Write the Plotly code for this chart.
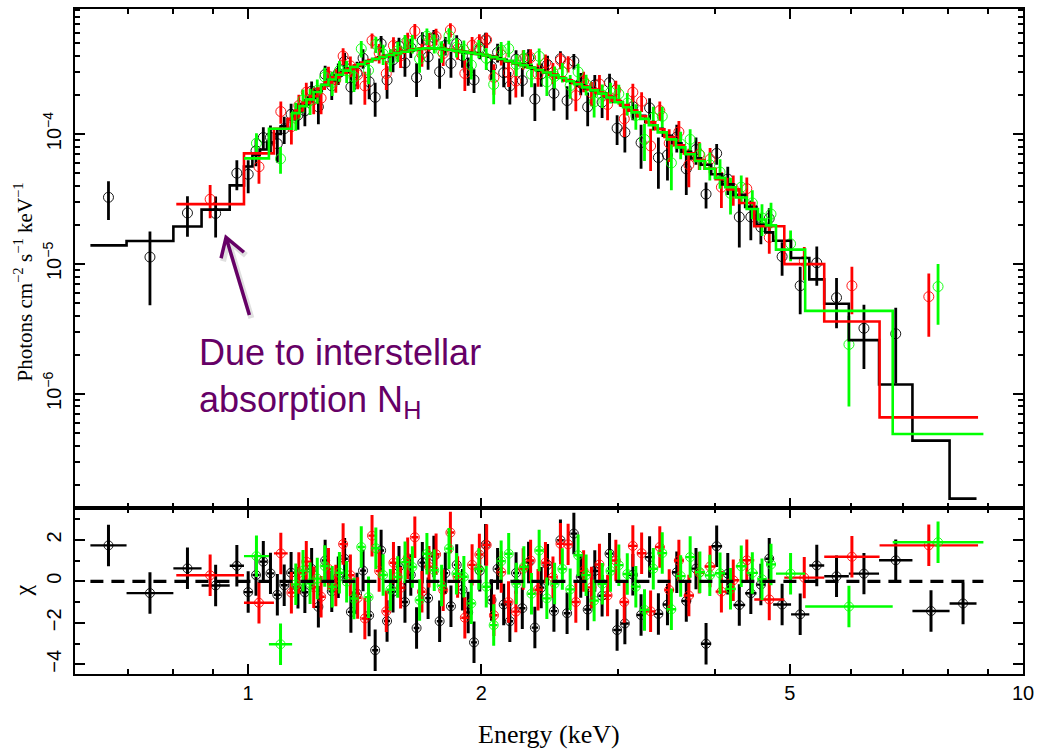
import numpy as np
import plotly.graph_objects as go

# Unfolded spectrum of three detectors with the fitted absorbed model.
# Flux, error and model lists are in units of 1e-5 photons cm^-2 s^-1 keV^-1.
FLUX_UNIT = 1e-5

# ---------------- black detector ----------------
blk_edges = [0.626, 0.697, 0.801, 0.871, 0.947, 0.988, 1.013,
             1.035, 1.058, 1.080, 1.102, 1.125, 1.148, 1.172, 1.196, 1.220, 1.245,
             1.270, 1.295, 1.320, 1.345, 1.370, 1.395, 1.420, 1.446, 1.472, 1.498,
             1.525, 1.552, 1.580, 1.608, 1.636, 1.664, 1.693, 1.722, 1.752, 1.782,
             1.812, 1.843, 1.875, 1.907, 1.940, 1.974, 2.008, 2.043, 2.080, 2.118,
             2.157, 2.197, 2.238, 2.280, 2.323, 2.367, 2.412, 2.458, 2.505, 2.555,
             2.606, 2.660, 2.715, 2.772, 2.832, 2.895, 2.960, 3.028, 3.100, 3.175,
             3.255, 3.340, 3.430, 3.525, 3.625, 3.730, 3.840, 3.960, 4.090, 4.230,
             4.380, 4.530,
             4.650, 4.760, 5.020, 5.300, 5.540, 5.960, 6.520, 7.200, 8.040, 8.710]
blk_flux = [3.26, 1.13, 2.47, 2.45, 5.0, 4.9,
            7.44, 9.4, 9.44, 8.44, 11.0, 14.2, 14.0, 15.1, 21.4, 16.2, 28.8, 23.5,
            29.4, 36.4, 23.0, 29.7, 38.4, 25.3, 19.2, 49.7, 26.0, 37.3, 47.6, 35.3,
            46.4, 27.2, 52.7, 39.3, 55.3, 30.2, 48.1, 35.0, 49.9, 40.1, 31.2, 26.1,
            45.0, 53.2, 33.1, 42.5, 29.7, 23.5, 37.7, 25.8, 38.7, 18.6, 29.0, 34.3,
            20.6, 38.0, 18.1, 36.4, 24.7, 16.2, 23.9, 17.6, 24.9, 11.1, 10.3, 16.3,
            8.6, 15.9, 6.6, 6.9, 9.5, 5.4, 7.6, 3.45, 7.1, 4.5, 2.3, 2.3,
            1.92, 2.24, 1.14, 0.68, 1.02, 0.55, 0.32, 0.29, -0.114, -0.134]
blk_err = [1.08, 0.65, 0.85, 0.85, 1.3, 1.4,
           1.8, 1.9, 2.2, 2.4, 2.6, 2.9, 3.2, 3.6, 4.0, 4.3, 4.8, 5.2,
           5.5, 5.9, 6.1, 6.4, 6.6, 6.8, 5.6, 7.2, 7.3, 7.4, 7.6, 7.7,
           7.8, 7.9, 8.0, 8.0, 8.0, 7.9, 7.9, 7.8, 7.7, 7.7, 7.6, 5.4,
           7.3, 7.2, 7.1, 7.0, 6.8, 6.6, 6.5, 6.4, 6.2, 6.0, 5.9, 5.8,
           5.5, 5.4, 5.2, 5.0, 4.8, 4.7, 4.6, 4.3, 4.2, 2.85, 3.1, 3.5,
           3.2, 3.0, 2.8, 2.5, 2.3, 2.0, 1.8, 0.78, 1.3, 1.1, 0.96, 0.78,
           0.5, 0.45, 0.33, 0.27, 0.34, 0.23, 0.165, 0.17, 0.11, 0.14]
blk_model = [1.39, 1.50, 1.94, 2.62, 4.03, 5.63,
             6.9, 7.6, 8.6, 10.0, 11.5, 13.0, 15.0, 17.0, 19.0, 21.5, 24.0, 26.0,
             28.3, 30.0, 32.0, 33.5, 35.0, 36.5, 37.8, 39.0, 40.0, 41.0, 42.3, 43.0,
             44.0, 45.0, 45.5, 45.8, 45.7, 45.4, 45.0, 44.4, 43.8, 43.2, 42.6, 42.0,
             41.3, 40.5, 39.5, 38.3, 37.3, 36.2, 35.1, 34.1, 33.1, 32.0, 30.8, 29.7,
             28.5, 27.3, 26.1, 24.9, 23.7, 22.6, 21.6, 20.6, 19.3, 17.8, 16.6, 15.2,
             13.8, 12.4, 11.0, 9.7, 8.5, 7.3, 6.5, 5.8, 4.9, 4.1, 3.4, 2.75,
             2.0, 1.75, 1.51, 1.11, 0.76, 0.494, 0.259, 0.118, 0.0436, 0.0156]

# ---------------- red detector ----------------
red_edges = [0.808, 0.988, 1.080, 1.125,
             1.150, 1.176, 1.202, 1.229, 1.256, 1.284, 1.312, 1.341, 1.370, 1.400,
             1.430, 1.461, 1.492, 1.524, 1.557, 1.590, 1.624, 1.659, 1.694, 1.730,
             1.767, 1.805, 1.844, 1.884, 1.925, 1.967, 2.010, 2.054, 2.099, 2.145,
             2.192, 2.240, 2.290, 2.341, 2.393, 2.447, 2.502, 2.559, 2.618, 2.679,
             2.742, 2.807, 2.875, 2.946, 3.020, 3.097, 3.178, 3.263, 3.352, 3.446,
             3.545, 3.650, 3.762, 3.882, 4.012, 4.152, 4.305, 4.500,
             4.920, 5.540, 6.530, 8.750]
red_flux = [3.15, 5.6, 14.9,
            11.4, 16.6, 21.0, 18.4, 18.9, 28.0, 26.2, 39.9, 33.5, 28.6, 23.5, 52.6,
            42.1, 29.2, 48.0, 40.0, 52.4, 62.2, 41.3, 51.6, 56.4, 41.7, 63.3, 45.3,
            29.3, 48.2, 51.1, 53.1, 27.3, 40.8, 29.7, 25.6, 37.8, 38.8, 29.0, 35.2,
            29.8, 36.9, 34.8, 19.8, 25.6, 20.8, 24.3, 16.9, 21.9, 13.1, 21.0, 17.9,
            8.1, 15.2, 8.5, 10.4, 5.8, 7.0, 6.4, 3.9, 3.8, 3.8,
            1.6, 1.05, 0.68, 0.56]
red_err = [0.9, 1.45, 2.9,
           3.1, 3.5, 3.8, 4.2, 4.7, 5.0, 5.4, 5.8, 6.1, 6.5, 6.7, 7.0,
           7.2, 7.4, 7.6, 7.8, 7.9, 8.2, 8.3, 8.3, 8.3, 8.2, 8.0, 7.9,
           7.8, 7.7, 7.6, 7.3, 7.2, 7.0, 6.7, 6.5, 6.4, 6.1, 5.9, 5.8,
           5.5, 5.3, 5.0, 4.8, 4.6, 4.4, 4.2, 4.1, 3.8, 3.6, 3.4, 3.1,
           2.9, 2.6, 2.4, 2.2, 1.9, 1.7, 1.4, 1.2, 1.0, 0.84,
           0.4, 0.3, 0.27, 0.285]
red_model = [2.89, 7.1, 11.0,
             13.1, 15.2, 17.4, 19.6, 22.4, 25.0, 27.3, 29.5, 31.7, 33.8, 35.5, 37.2,
             38.5, 39.9, 41.2, 42.4, 43.6, 44.8, 45.5, 45.8, 45.6, 45.2, 44.5, 43.7,
             43.0, 42.1, 41.3, 40.3, 39.1, 37.7, 36.4, 35.1, 34.0, 32.7, 31.4, 30.0,
             28.7, 27.3, 25.9, 24.6, 23.3, 22.1, 20.9, 19.7, 18.1, 16.7, 15.2, 13.7,
             12.3, 10.9, 9.5, 8.2, 7.1, 6.3, 5.4, 4.5, 3.75, 2.95,
             1.95, 0.997, 0.36, 0.0659]

# ---------------- green detector ----------------
grn_edges = [0.988, 1.064, 1.140,
             1.165, 1.190, 1.215, 1.242, 1.270, 1.298, 1.326, 1.355, 1.385, 1.415,
             1.446, 1.478, 1.510, 1.543, 1.577, 1.612, 1.647, 1.683, 1.720, 1.758,
             1.797, 1.837, 1.878, 1.920, 1.963, 2.007, 2.052, 2.098, 2.145, 2.194,
             2.244, 2.295, 2.348, 2.402, 2.458, 2.515, 2.574, 2.635, 2.698, 2.763,
             2.830, 2.900, 2.972, 3.047, 3.125, 3.206, 3.290, 3.378, 3.470, 3.566,
             3.667, 3.773, 3.885, 4.003, 4.128, 4.260, 4.400, 4.550, 4.660, 4.800,
             5.235, 6.790, 8.890]
grn_flux = [8.5, 6.45,
            14.0, 18.3, 18.1, 21.7, 27.5, 24.9, 30.9, 30.7, 27.5, 45.4, 31.0, 49.1,
            41.4, 37.6, 43.6, 50.2, 49.8, 37.9, 56.8, 50.1, 43.6, 57.2, 46.7, 44.7,
            34.0, 45.7, 38.4, 24.1, 44.4, 45.5, 34.4, 38.2, 28.9, 39.7, 25.2, 27.8,
            30.1, 23.6, 30.1, 24.2, 17.7, 20.0, 21.0, 20.4, 17.3, 13.9, 9.1, 13.4,
            13.7, 6.0, 8.4, 9.1, 6.9, 5.8, 5.1, 3.5, 3.9, 2.95, 2.26, 2.42,
            1.43, 0.24, 0.67]
grn_err = [1.65, 1.5,
           3.4, 3.7, 4.1, 4.6, 4.9, 5.3, 5.6, 6.0, 6.4, 6.6, 6.8, 7.1,
           7.3, 7.4, 7.7, 7.8, 8.0, 8.2, 8.3, 8.3, 8.2, 8.0, 7.9, 7.8,
           7.7, 7.4, 7.3, 7.1, 6.8, 6.7, 6.5, 6.2, 6.0, 5.8, 5.6, 5.4,
           5.2, 4.9, 4.7, 4.4, 4.3, 4.1, 3.8, 3.6, 3.4, 3.1, 2.9, 2.8,
           2.5, 2.3, 2.0, 1.8, 1.6, 1.4, 1.3, 1.1, 0.9, 0.74, 0.62, 0.54,
           0.38, 0.16, 0.33]
grn_model = [6.5, 11.0,
             14.5, 16.4, 18.5, 21.1, 23.9, 26.3, 28.6, 30.8, 32.8, 34.5, 36.2, 37.8,
             39.2, 40.6, 42.0, 43.0, 44.3, 45.3, 45.8, 45.7, 45.3, 44.6, 43.8, 43.0,
             42.2, 41.3, 40.3, 39.1, 37.8, 36.6, 35.1, 33.9, 32.5, 31.1, 29.8, 28.4,
             27.0, 25.5, 24.2, 22.9, 21.7, 20.5, 19.1, 17.6, 16.1, 14.7, 13.1, 11.7,
             10.3, 9.1, 7.9, 7.0, 6.2, 5.4, 4.6, 3.9, 3.25, 2.65, 2.2, 1.98,
             1.29, 0.435, 0.0491]

SERIES = [
    ("#000000", blk_edges, blk_flux, blk_err, blk_model),
    ("#ff0000", red_edges, red_flux, red_err, red_model),
    ("#00ff00", grn_edges, grn_flux, grn_err, grn_model),
]

# axis tick labels
x_ticks = [1, 2, 5, 10]
x_ticktext = ["1", "2", "5", "10"]
x_minor = [0.7, 0.8, 0.9, 3, 4, 6, 7, 8, 9]
y_ticks = [1e-6, 1e-5, 1e-4]
y_ticktext = ["10<sup>\u22126</sup>", "10<sup>\u22125</sup>", "10<sup>\u22124</sup>"]
y_minor = [k * 10.0 ** p for p in range(-7, -3) for k in range(2, 10)]
chi_ticks = [-4, -2, 0, 2]
chi_ticktext = ["\u22124", "\u22122", "0", "2"]
chi_minor = [-3, -1, 1, 3]

X_LOG_RANGE = [np.log10(0.598), 1.0]
Y_LOG_RANGE = [-6.883, -3.037]
CHI_RANGE = [-4.47, 3.51]

W, H = 1041, 749
ML, MR, MT, MB = 75, 12, 7, 75
PW, PH = W - ML - MR, H - MT - MB
SPLIT = (674 - 508) / PH          # height share of the residual panel


def px(x):
    return (x - ML) / PW


def py(y):
    return (H - MB - y) / PH


def prepare(edges, flux, err, model):
    e = np.asarray(edges, float)
    lo, hi = e[:-1], e[1:]
    f = np.asarray(flux, float) * FLUX_UNIT
    s = np.asarray(err, float) * FLUX_UNIT
    m = np.asarray(model, float) * FLUX_UNIT
    assert len(f) == len(s) == len(m) == len(lo)
    cen = np.sqrt(lo * hi)
    chi = (f - m) / s
    return lo, hi, cen, f, s, m, chi


fig = go.Figure()
prepared = [(c,) + prepare(*rest) for c, *rest in SERIES]

# data points, upper panel
for col, lo, hi, cen, f, s, m, chi in prepared:
    pos = f > 0
    fig.add_trace(go.Scatter(
        x=cen[pos], y=f[pos], mode="markers", xaxis="x", yaxis="y",
        marker=dict(symbol="circle-open", size=10, color=col, line=dict(width=0.9)),
        error_y=dict(type="data", array=s[pos], color=col, thickness=2.8, width=0),
        hoverinfo="skip", showlegend=False))

# folded model as histogram steps
for col, lo, hi, cen, f, s, m, chi in prepared:
    fig.add_trace(go.Scatter(
        x=np.append(lo, hi[-1]), y=np.append(m, m[-1]), mode="lines",
        xaxis="x", yaxis="y", line=dict(color=col, width=2.6, shape="hv"),
        hoverinfo="skip", showlegend=False))

# residuals, lower panel
for col, lo, hi, cen, f, s, m, chi in prepared:
    fig.add_trace(go.Scatter(
        x=cen, y=chi, mode="markers", xaxis="x2", yaxis="y2",
        marker=dict(symbol="circle-open", size=9, color=col, line=dict(width=0.9)),
        error_x=dict(type="data", symmetric=False, array=hi - cen, arrayminus=cen - lo,
                     color=col, thickness=2.4, width=0),
        error_y=dict(type="constant", value=1, color=col, thickness=3.0, width=0),
        hoverinfo="skip", showlegend=False))

fig.add_trace(go.Scatter(
    x=[blk_edges[0], grn_edges[-1]], y=[0, 0], mode="lines", xaxis="x2", yaxis="y2",
    line=dict(color="black", width=3.2, dash="13px,8px"),
    hoverinfo="skip", showlegend=False))

tick_font = dict(family="Liberation Sans, Arial, sans-serif", size=20, color="black")
axis_common = dict(showline=True, linewidth=2, linecolor="black", mirror="allticks",
                   ticks="inside", ticklen=10, tickwidth=1.8, tickcolor="black",
                   showgrid=False, zeroline=False, tickfont=tick_font)

fig.update_layout(
    width=W, height=H, margin=dict(l=ML, r=MR, t=MT, b=MB),
    paper_bgcolor="white", plot_bgcolor="white", showlegend=False,
    xaxis=dict(type="log", range=X_LOG_RANGE, domain=[0, 1], anchor="y",
               tickmode="array", tickvals=x_ticks, showticklabels=False,
               minor=dict(tickmode="array", tickvals=x_minor, ticks="inside",
                          ticklen=5, tickwidth=1.5, tickcolor="black"),
               **axis_common),
    yaxis=dict(type="log", range=Y_LOG_RANGE, domain=[SPLIT, 1], anchor="x",
               tickmode="array", tickvals=y_ticks, ticktext=y_ticktext, tickangle=-90,
               ticklabelstandoff=4,
               minor=dict(tickmode="array", tickvals=y_minor, ticks="inside",
                          ticklen=5, tickwidth=1.5, tickcolor="black"),
               **axis_common),
    xaxis2=dict(type="log", range=X_LOG_RANGE, domain=[0, 1], anchor="y2",
                tickmode="array", tickvals=x_ticks, ticktext=x_ticktext,
                minor=dict(tickmode="array", tickvals=x_minor, ticks="inside",
                           ticklen=5, tickwidth=1.5, tickcolor="black"),
                **axis_common),
    yaxis2=dict(range=CHI_RANGE, domain=[0, SPLIT], anchor="x2",
                tickmode="array", tickvals=chi_ticks, ticktext=chi_ticktext, tickangle=-90,
                ticklabelstandoff=4,
                minor=dict(tickmode="array", tickvals=chi_minor, ticks="inside",
                           ticklen=5, tickwidth=1.5, tickcolor="black"),
                **axis_common),
)

serif = "Liberation Serif, Times New Roman, serif"
purple = "#660066"
fig.add_annotation(text="Photons cm<sup>\u22122</sup> s<sup>\u22121</sup> keV<sup>\u22121</sup>",
                   xref="paper", yref="paper", x=px(23), y=py(281), textangle=-90,
                   xanchor="center", yanchor="middle", showarrow=False,
                   font=dict(family=serif, size=21, color="black"))
fig.add_annotation(text="\u03c7", xref="paper", yref="paper", x=px(23), y=py(590),
                   textangle=-90, xanchor="center", yanchor="middle", showarrow=False,
                   font=dict(family=serif, size=24, color="black"))
fig.add_annotation(text="Energy (keV)", xref="paper", yref="paper", x=px(552), y=py(735),
                   xanchor="center", yanchor="middle", showarrow=False,
                   font=dict(family=serif, size=26, color="black"))
fig.add_annotation(text="Due to interstellar<br>absorption N<sub>H</sub>",
                   xref="paper", yref="paper", x=px(198), y=py(377),
                   xanchor="left", yanchor="middle", align="left", showarrow=False,
                   font=dict(family="Liberation Sans, Arial, sans-serif", size=36, color=purple))

# arrow pointing at the low-energy turnover (soft shadow + purple chevron)
tip, tail = (227, 236), (250.5, 314)
arm_a, arm_b = (222, 257), (245, 251)


def arrow_path(dx=0.0, dy=0.0):
    pts = lambda p: f"{px(p[0] + dx)},{py(p[1] + dy)}"
    return (f"M {pts(tail)} L {pts(tip)} M {pts(arm_a)} L {pts(tip)} L {pts(arm_b)}")


fig.add_shape(type="path", xref="paper", yref="paper", path=arrow_path(2, 3),
              line=dict(color="rgba(0,0,0,0.12)", width=6))
fig.add_shape(type="path", xref="paper", yref="paper", path=arrow_path(),
              line=dict(color=purple, width=3.5))

fig.write_html("out.html")
